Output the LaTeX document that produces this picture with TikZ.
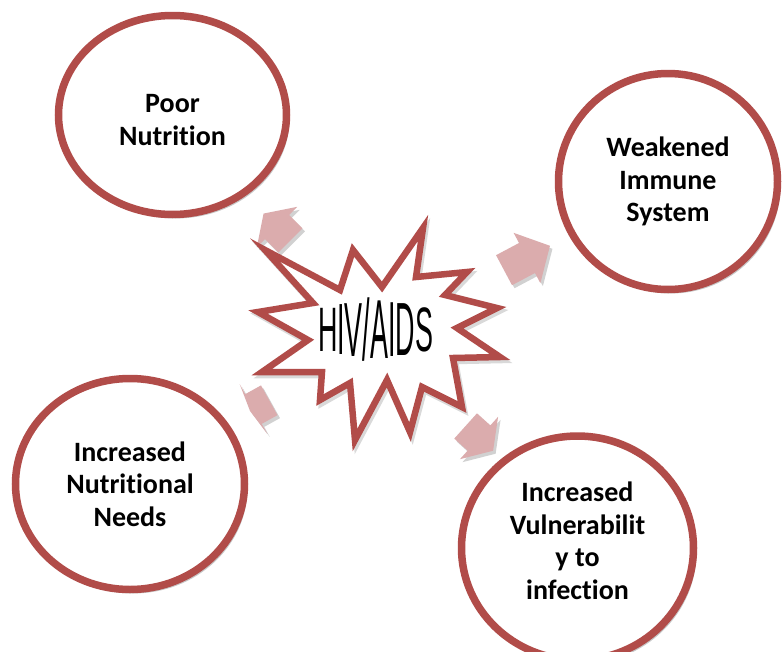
\documentclass[tikz,border=0pt]{standalone}
\usepackage{fontspec}
\usepackage{graphicx}
\setmainfont{Carlito}[RawFeature={-liga;-clig;-calt;-dlig}]
\newfontfamily\wafont{Liberation Sans}
\usetikzlibrary{shapes.geometric,shadows}
\definecolor{ringred}{RGB}{177,76,73}
\definecolor{arrowpink}{RGB}{219,172,173}
\newcommand\shiftline[2]{\raisebox{#1}[\height][\depth]{#2}}
\newcommand\blockarrow[6]{%
  \begin{scope}[shift={(#2+2.5,#3+3)}, rotate=#4]
    \fill[black, opacity=0.18] (-#5,-17) -- (0,-17) -- (0,-28.5) -- (#6,0) -- (0,28.5) -- (0,17) -- (-#5,17) -- cycle;
  \end{scope}
  \begin{scope}[shift={(#2,#3)}, rotate=#4]
    \fill[arrowpink] (-#5,-17) -- (0,-17) -- (0,-28.5) -- (#6,0) -- (0,28.5) -- (0,17) -- (-#5,17) -- cycle;
  \end{scope}
  \coordinate (#1) at (#2,#3);}
\tikzset{
  bubble/.style={ellipse, draw=ringred, line width=7.5pt, fill=white,
    font=\bfseries\fontsize{28}{32.5}\selectfont, align=center, inner sep=0pt,
    drop shadow={shadow xshift=3pt, shadow yshift=-4pt, opacity=0.22, fill=black}},
  letter/.style={inner sep=0pt, outer sep=0pt, anchor=west, font=\wafont\fontsize{10}{12}\selectfont},
  starline/.style={draw=ringred, line width=6.5pt, fill=white, line join=miter},
}
\begin{document}
\begin{tikzpicture}[x=1pt,y=-1pt]
\useasboundingbox (0,0) rectangle (782,651);
\fill[white] (0,0) rectangle (782,651);

% circles
\node[bubble, minimum width=228pt, minimum height=199pt] (pn) at (172.5,115)
  {\shiftline{-5pt}{Poor}\\\shiftline{-5pt}{Nutrition}};
\node[bubble, minimum width=219pt, minimum height=216pt] (wis) at (668,181.5)
  {Weakened\\Immune\\System};
\node[bubble, minimum width=229pt, minimum height=211pt] (inn) at (130,484)
  {Increased\\Nutritional\\Needs};
\node[bubble, minimum width=232pt, minimum height=224pt] (ivi) at (577.5,548)
  {\shiftline{7pt}{Increased}\\\shiftline{7pt}{Vulnerabilit}\\\shiftline{7pt}{y to}\\\shiftline{7pt}{infection}};

% block arrows
\blockarrow{a1}{277}{227}{135}{19}{19}
\blockarrow{a2}{527}{258}{28}{26}{26}
\blockarrow{a3}{253.5}{409}{209}{18}{4}
\blockarrow{a4}{479}{438}{-42}{18}{19}

% star
\begin{scope}[shift={(2,3)}]
\draw[draw=black, opacity=0.15, line width=6.5pt, line join=miter]
 (265,250) -- (340,290) -- (353,250) -- (382,287) -- (423,228) -- (416,277) -- (467,272) -- (445,295) -- (497,308) -- (457,328) -- (500,357) -- (453,358) -- (462,407) -- (422,387) -- (410,432) -- (387,380) -- (355,440) -- (350,383) -- (320,400) -- (322,372) -- (262,372) -- (308,340) -- (258,312) -- (313,303) -- cycle;
\end{scope}
\draw[starline]
 (265,250) -- (340,290) -- (353,250) -- (382,287) -- (423,228) -- (416,277) -- (467,272) -- (445,295) -- (497,308) -- (457,328) -- (500,357) -- (453,358) -- (462,407) -- (422,387) -- (410,432) -- (387,380) -- (355,440) -- (350,383) -- (320,400) -- (322,372) -- (262,372) -- (308,340) -- (258,312) -- (313,303) -- cycle;

% HIV/AIDS word art
\node[letter] (l1) at (318,330) {\scalebox{2.69}[6.28]{H}};
\node[letter] (l2) at (l1.east) {\scalebox{2.69}[7.26]{I}};
\node[letter] (l3) at (l2.east) {\scalebox{2.69}[7.68]{V}};
\node[letter] (l4) at (l3.east) {\scalebox{2.69}[8.66]{/}};
\node[letter] (l5) at (l4.east) {\scalebox{2.69}[8.38]{A}};
\node[letter] (l6) at (l5.east) {\scalebox{2.69}[7.82]{I}};
\node[letter] (l7) at (l6.east) {\scalebox{2.69}[7.54]{D}};
\node[letter] (l8) at (l7.east) {\scalebox{2.69}[6.28]{S}};
\end{tikzpicture}
\end{document}
